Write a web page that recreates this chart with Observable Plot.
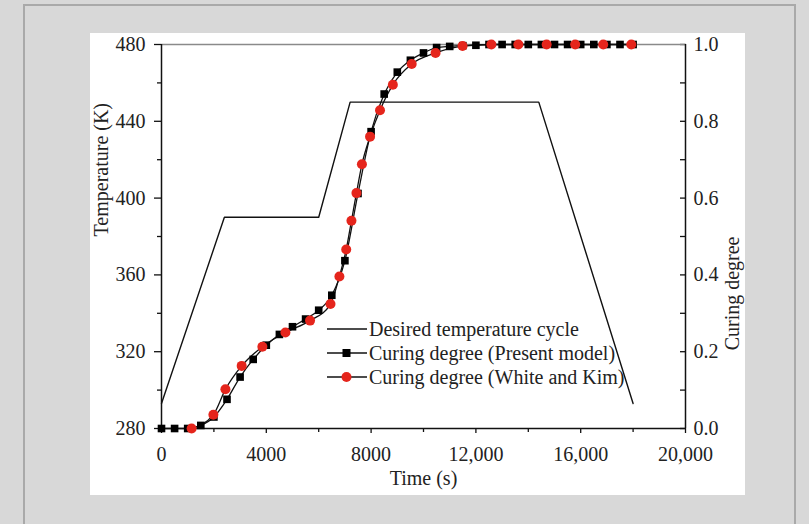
<!DOCTYPE html>
<html>
<head>
<meta charset="utf-8">
<script src="https://cdn.jsdelivr.net/npm/d3@7"></script>
<script src="https://cdn.jsdelivr.net/npm/@observablehq/plot@0.6"></script>
<style>
  html, body { margin: 0; padding: 0; }
  body { width: 809px; height: 524px; background: #d8d8d8; position: relative; overflow: hidden;
         font-family: "Liberation Serif", "Times New Roman", serif; color: #222; }
  #frame { position: absolute; left: 23px; top: 4px; width: 773px; height: 560px;
           border: 2px solid #a9a9a9; box-sizing: border-box; }
  #chart { position: absolute; left: 90px; top: 33px; width: 655px; height: 462px; background: #fff; }
  #chart svg { display: block; }
  #legend { position: absolute; left: 327px; top: 317px; font-size: 20px; line-height: 24px; }
  .row { display: flex; align-items: center; height: 24px; white-space: nowrap; }
  .row svg { width: 41px; height: 24px; flex: none; margin-right: 1px; }
</style>
</head>
<body>
<div id="frame"></div>
<div id="chart"></div>
<div id="legend"></div>
<script>
// ---- data ----
const tempTime = [0, 2400, 6000, 7200, 14400, 18000];
const tempK    = [293, 390, 390, 450, 450, 293];

const presentTime = [0, 500, 1000, 1500, 2000, 2500, 3000, 3500, 4000, 4500, 5000, 5500, 6000,
  6500, 7000, 7500, 8000, 8500, 9000, 9500, 10000, 10500, 11000, 11500, 12000,
  12500, 13000, 13500, 14000, 14500, 15000, 15500, 16000, 16500, 17000, 17500, 18000];
const presentCure = [0, 0, 0, 0.008, 0.03, 0.076, 0.134, 0.18, 0.217, 0.245, 0.265, 0.285, 0.308,
  0.347, 0.437, 0.612, 0.773, 0.871, 0.928, 0.959, 0.978, 0.992, 0.995, 0.997, 0.998,
  1, 1, 1, 1, 1, 1, 1, 1, 1, 1, 1, 1];

const wkTime = [1150, 1980, 2440, 3060, 3850, 4730, 5670, 6450, 6790, 7050, 7250, 7440, 7650,
  7960, 8340, 8830, 9550, 10460, 11490, 12590, 13620, 14700, 15790, 16860, 17930];
const wkCure = [0, 0.036, 0.102, 0.163, 0.213, 0.25, 0.281, 0.324, 0.396, 0.466, 0.541, 0.613, 0.688,
  0.76, 0.829, 0.895, 0.949, 0.978, 0.996, 1, 1, 1, 1, 1, 1];

const xTicks = [0, 4000, 8000, 12000, 16000, 20000];
const xMinor = [2000, 6000, 10000, 14000, 18000];
const tempTicks = [280, 320, 360, 400, 440, 480];
const tempMinor = [300, 340, 380, 420, 460];
const cureTicks = [0, 0.2, 0.4, 0.6, 0.8, 1.0];
const cureMinor = [0.1, 0.3, 0.5, 0.7, 0.9];

const seriesNames = ["Desired temperature cycle", "Curing degree (Present model)", "Curing degree (White and Kim)"];

// ---- build ----
const tMin = 280, tMax = 480;
const toT = c => tMin + (tMax - tMin) * c;
const toC = T => (T - tMin) / (tMax - tMin);

const temp = tempTime.map((t, i) => ({t, T: tempK[i]}));
const present = presentTime.map((t, i) => ({t, c: presentCure[i]}));
const wk = wkTime.map((t, i) => ({t, c: wkCure[i]}));

const RED = "#e5251c";
const FS = 20;
const font = '"Liberation Serif", "Times New Roman", serif';

const chart = Plot.plot({
  width: 655, height: 462,
  marginLeft: 71, marginRight: 60, marginTop: 11, marginBottom: 67,
  style: {fontFamily: font, fontSize: FS + "px", color: "#222", background: "#fff", overflow: "visible"},
  x: {domain: [0, 20000]},
  y: {domain: [tMin, tMax]},
  marks: [
    // bottom axis
    Plot.axisX({ticks: xTicks, tickSize: 5, tickPadding: 13, fontSize: FS, stroke: "#111", strokeWidth: 1.3,
      tickFormat: d => d >= 10000 ? d3.format(",")(d) : String(d), label: null}),
    Plot.axisX({ticks: xMinor, tickSize: 4, fill: "none", stroke: "#111", strokeWidth: 1.3, label: null}),
    // left axis
    Plot.axisY({ticks: tempTicks, tickSize: 7, tickPadding: 9, fontSize: FS, stroke: "#111", strokeWidth: 1.3,
      tickFormat: d => String(d), label: null}),
    Plot.axisY({ticks: tempMinor, tickSize: 4, fill: "none", stroke: "#111", strokeWidth: 1.3, label: null}),
    // right axis (inward ticks)
    Plot.axisY({anchor: "right", ticks: cureTicks.map(toT), tickSize: 6, dx: -6, fill: "none", stroke: "#111", strokeWidth: 1.3, label: null}),
    Plot.axisY({anchor: "right", ticks: cureMinor.map(toT), tickSize: 6, dx: -6, fill: "none", stroke: "#111", strokeWidth: 1.3, label: null}),
    Plot.axisY({anchor: "right", ticks: cureTicks.map(toT), tickSize: 0, tickPadding: 8, fontSize: FS,
      tickFormat: d => toC(d).toFixed(1), label: null}),
    // axis lines
    Plot.ruleY([tMax], {stroke: "#8a8a8a", strokeWidth: 1.6}),
    Plot.ruleX([0, 20000], {stroke: "#111", strokeWidth: 1.5}),
    Plot.ruleY([tMin], {stroke: "#111", strokeWidth: 1.5}),
    // titles
    Plot.text(["Temperature (K)"], {frameAnchor: "left", dx: -60, rotate: -90, fontSize: FS, fill: "#222"}),
    Plot.text(["Curing degree"], {frameAnchor: "right", dx: 47, rotate: -90, fontSize: FS, fill: "#222"}),
    Plot.text(["Time (s)"], {frameAnchor: "bottom", dy: 56, fontSize: FS, fill: "#222"}),
    // data
    Plot.line(temp, {x: "t", y: "T", stroke: "#111", strokeWidth: 1.4}),
    Plot.line(present, {x: "t", y: d => toT(d.c), stroke: "#111", strokeWidth: 1.3, curve: "monotone-x"}),
    Plot.line(wk, {x: "t", y: d => toT(d.c), stroke: "#111", strokeWidth: 1.3, curve: "monotone-x"}),
    Plot.dot(present, {x: "t", y: d => toT(d.c), symbol: "square", r: 4.3, fill: "#000", stroke: "none"}),
    Plot.dot(wk, {x: "t", y: d => toT(d.c), symbol: "circle", r: 5, fill: RED, stroke: "none"})
  ]
});
document.getElementById("chart").appendChild(chart);

// legend
const icons = [
  `<svg viewBox="0 0 41 24"><line x1="0" y1="12" x2="40" y2="12" stroke="#111" stroke-width="1.5"/></svg>`,
  `<svg viewBox="0 0 41 24"><line x1="0" y1="12" x2="40" y2="12" stroke="#111" stroke-width="1.5"/><rect x="15.5" y="8" width="8" height="8" fill="#000"/></svg>`,
  `<svg viewBox="0 0 41 24"><line x1="0" y1="12" x2="40" y2="12" stroke="#111" stroke-width="1.5"/><circle cx="19.5" cy="12" r="5" fill="${RED}"/></svg>`
];
document.getElementById("legend").innerHTML = seriesNames
  .map((n, i) => `<div class="row">${icons[i]}<span>${n}</span></div>`).join("");
</script>
</body>
</html>
